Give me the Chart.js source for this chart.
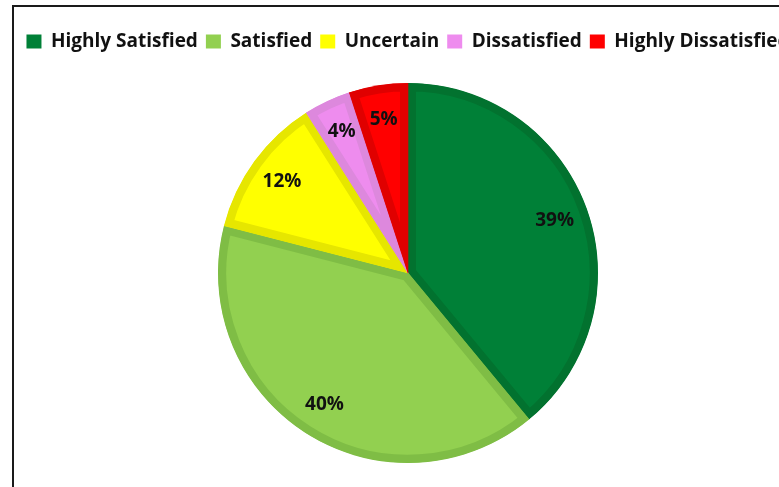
<!DOCTYPE html>
<html>
<head>
<meta charset="utf-8">
<script src="https://cdn.jsdelivr.net/npm/chart.js@4/dist/chart.umd.min.js"></script>
<style>
  html, body { margin: 0; padding: 0; background: #fff; overflow: hidden; width: 779px; height: 487px; }
  #frame { position: absolute; left: 12px; top: 5px; width: 900px; height: 600px; border: 2px solid #1a1a1a; }
  #wrap { position: absolute; left: -2px; top: 8px; width: 820px; height: 479px; }
</style>
</head>
<body>
<div id="frame"></div>
<div id="wrap"><canvas id="pieChart"></canvas></div>
<script>
  // data
  var categorias = ['Highly Satisfied', 'Satisfied', 'Uncertain', 'Dissatisfied', 'Highly Dissatisfied'];
  var porcentajes = [39, 40, 12, 4, 5];
  var colores = ['#008037', '#92D050', '#FFFF00', '#EE8CEE', '#FF0000'];
  var bordes = ['#02722F', '#7FBD45', '#E6E600', '#DD88DD', '#E00000'];

  var fuente = 'Open Sans';

  // percent labels inside slices
  var etiquetas = {
    id: 'etiquetas',
    afterDatasetsDraw: function (chart) {
      var ctx = chart.ctx;
      var meta = chart.getDatasetMeta(0);
      ctx.save();
      ctx.font = 'bold 19px "' + fuente + '"';
      ctx.fillStyle = '#111';
      ctx.textAlign = 'center';
      ctx.textBaseline = 'middle';
      meta.data.forEach(function (arc, i) {
        var p = arc.getProps(['x', 'y', 'startAngle', 'endAngle', 'outerRadius']);
        var mid = (p.startAngle + p.endAngle) / 2;
        var r = p.outerRadius * 0.82;
        ctx.fillText(porcentajes[i] + '%', p.x + Math.cos(mid) * r, p.y + Math.sin(mid) * r);
      });
      ctx.restore();
    }
  };

  // extra space under the legend
  var espacioLeyenda = {
    id: 'espacioLeyenda',
    beforeInit: function (chart) {
      var fitOrig = chart.legend.fit;
      chart.legend.fit = function () {
        fitOrig.bind(chart.legend)();
        this.height += 22;
      };
    }
  };

  var generarOrig = Chart.overrides.pie.plugins.legend.labels.generateLabels;

  var pieCanvas = document.getElementById('pieChart').getContext('2d');
  new Chart(pieCanvas, {
    type: 'pie',
    data: {
      labels: categorias,
      datasets: [{
        data: porcentajes,
        backgroundColor: colores,
        borderColor: bordes,
        borderWidth: 8,
        borderAlign: 'inner'
      }]
    },
    options: {
      responsive: true,
      maintainAspectRatio: false,
      animation: false,
      layout: { padding: { top: 16, bottom: 24 } },
      plugins: {
        tooltip: { enabled: false },
        legend: {
          position: 'top',
          labels: {
            boxWidth: 15,
            boxHeight: 14,
            padding: 8,
            color: '#111',
            font: { family: fuente, size: 19, weight: 'bold' },
            generateLabels: function (chart) {
              var items = generarOrig(chart);
              items.forEach(function (it) { it.lineWidth = 0; it.strokeStyle = it.fillStyle; });
              return items;
            }
          }
        }
      }
    },
    plugins: [etiquetas, espacioLeyenda]
  });
</script>
</body>
</html>
